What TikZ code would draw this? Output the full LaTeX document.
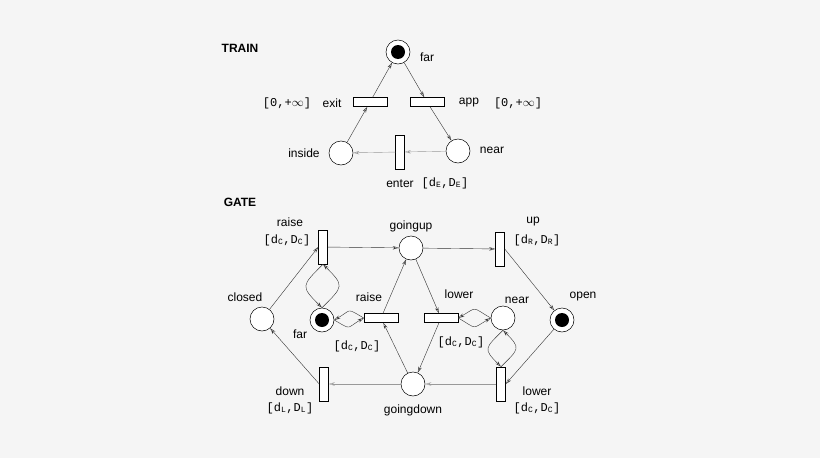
\documentclass[tikz,border=0pt]{standalone}
\usepackage{fontspec}
\setmainfont{Liberation Sans}
\setmonofont{Liberation Mono}
\usetikzlibrary{arrows.meta}
\newcommand{\iv}[2]{\texttt{[d\textsubscript{#1},D\textsubscript{#2}]}}
\begin{document}
\begin{tikzpicture}[x=1pt,y=-1pt,font=\fontsize{12}{14}\selectfont,
  place/.style={circle,draw,line width=0.5pt,minimum size=24pt,inner sep=0pt,fill=white},
  vtr/.style={rectangle,draw,line width=0.5pt,minimum width=9pt,minimum height=34pt,inner sep=0pt,fill=white},
  htr/.style={rectangle,draw,line width=0.5pt,minimum width=34pt,minimum height=9pt,inner sep=0pt,fill=white},
  arc/.style={->,>={Stealth[length=6pt,width=3.5pt,open]},line width=0.4pt,draw=black!80},
  garc/.style={arc,draw=black!40},
  loop/.style={arc,looseness=1.8},
  lbl/.style={inner sep=1pt}]
\fill[black!4] (0,0) rectangle (820,458);
\useasboundingbox (0,0) rectangle (820,458);
% TRAIN
\node[lbl,font=\fontsize{12}{14}\selectfont\bfseries] (ttrain) at (240,48) {TRAIN};
\node[place] (tfar) at (398,52) {};
\fill (tfar.center) circle (7);
\node[htr] (texit) at (370,102) {};
\node[htr] (tapp) at (427,102) {};
\node[place] (tinside) at (341,153) {};
\node[place] (tnear) at (458,151) {};
\node[vtr] (tenter) at (400,152) {};
\node[lbl] (lfar) at (427,57) {far};
\node[lbl] (lexit) at (332,103) {exit};
\node[lbl] (iexit) at (287,103) {\texttt{[0,+$\infty$]}};
\node[lbl] (lapp) at (469,103) {app};
\node[lbl] (iapp) at (518,103) {\texttt{[0,+$\infty$]}};
\node[lbl] (linside) at (304,153) {inside};
\node[lbl] (lnear) at (492,150) {near};
\node[lbl] (lenter) at (400,184) {enter};
\node[lbl] (ienter) at (445,183) {\iv{E}{E}};
\draw[arc] (tinside) -- (texit);
\draw[arc] (texit) -- (tfar);
\draw[arc] (tfar) -- (tapp);
\draw[arc] (tapp) -- (tnear);
\draw[garc] (tnear) -- (tenter);
\draw[garc] (tenter) -- (tinside);
% GATE
\node[lbl,font=\fontsize{12}{14}\selectfont\bfseries] (tgate) at (240,202) {GATE};
\node[vtr] (graise) at (323,247) {};
\node[place] (ggoingup) at (411,248) {};
\node[vtr] (gup) at (500,249) {};
\node[place] (gopen) at (562,320) {};
\fill (gopen.center) circle (7);
\node[place] (gclosed) at (262,319) {};
\node[place] (gfar) at (322,320) {};
\fill (gfar.center) circle (7);
\node[htr] (graise2) at (381,318) {};
\node[htr] (glower) at (441,318) {};
\node[place] (gnear) at (503,318) {};
\node[vtr] (gdown) at (324,384) {};
\node[place] (ggoingdown) at (413,384) {};
\node[vtr] (glower2) at (501,384) {};
\node[lbl] at (290,222) {raise};
\node[lbl] at (287,240) {\iv{C}{C}};
\node[lbl] at (411,226) {goingup};
\node[lbl] at (533,222) {up};
\node[lbl] at (537,240) {\iv{R}{R}};
\node[lbl] at (245,297) {closed};
\node[lbl] at (583,297) {open};
\node[lbl] at (369,297) {raise};
\node[lbl] at (459,294) {lower};
\node[lbl] at (517,300) {near};
\node[lbl] at (300,334) {far};
\node[lbl] at (357,346) {\iv{C}{C}};
\node[lbl] at (461,342) {\iv{C}{C}};
\node[lbl] at (290,391) {down};
\node[lbl] at (290,408) {\iv{L}{L}};
\node[lbl] at (413,410) {goingdown};
\node[lbl] at (537,391) {lower};
\node[lbl] at (537,408) {\iv{C}{C}};
\draw[arc] (gclosed) -- (graise.west);
\draw[arc] (graise) -- (ggoingup);
\draw[arc] (ggoingup) -- (gup);
\draw[arc] (gup.east) -- (gopen);
\draw[arc] (gopen) -- (glower2.east);
\draw[garc] (glower2) -- (ggoingdown);
\draw[garc] (ggoingdown) -- (gdown);
\draw[arc] (gdown.west) -- (gclosed);
\draw[loop] (graise.south) to[out=225,in=135] (gfar.north);
\draw[loop] (gfar.north) to[out=45,in=-45] (graise.south);
\draw[loop] (graise2.west) to[out=150,in=30] (gfar.east);
\draw[loop] (gfar.east) to[out=-30,in=-150] (graise2.west);
\draw[arc] (graise2) -- (ggoingup);
\draw[arc] (ggoingup) -- (glower);
\draw[arc] (glower) -- (ggoingdown);
\draw[arc] (ggoingdown) -- (graise2);
\draw[loop] (gnear.west) to[out=150,in=30] (glower.east);
\draw[loop] (glower.east) to[out=-30,in=-150] (gnear.west);
\draw[loop] (gnear.south) to[out=225,in=135] (glower2.north);
\draw[loop] (glower2.north) to[out=45,in=-45] (gnear.south);
\end{tikzpicture}
\end{document}
